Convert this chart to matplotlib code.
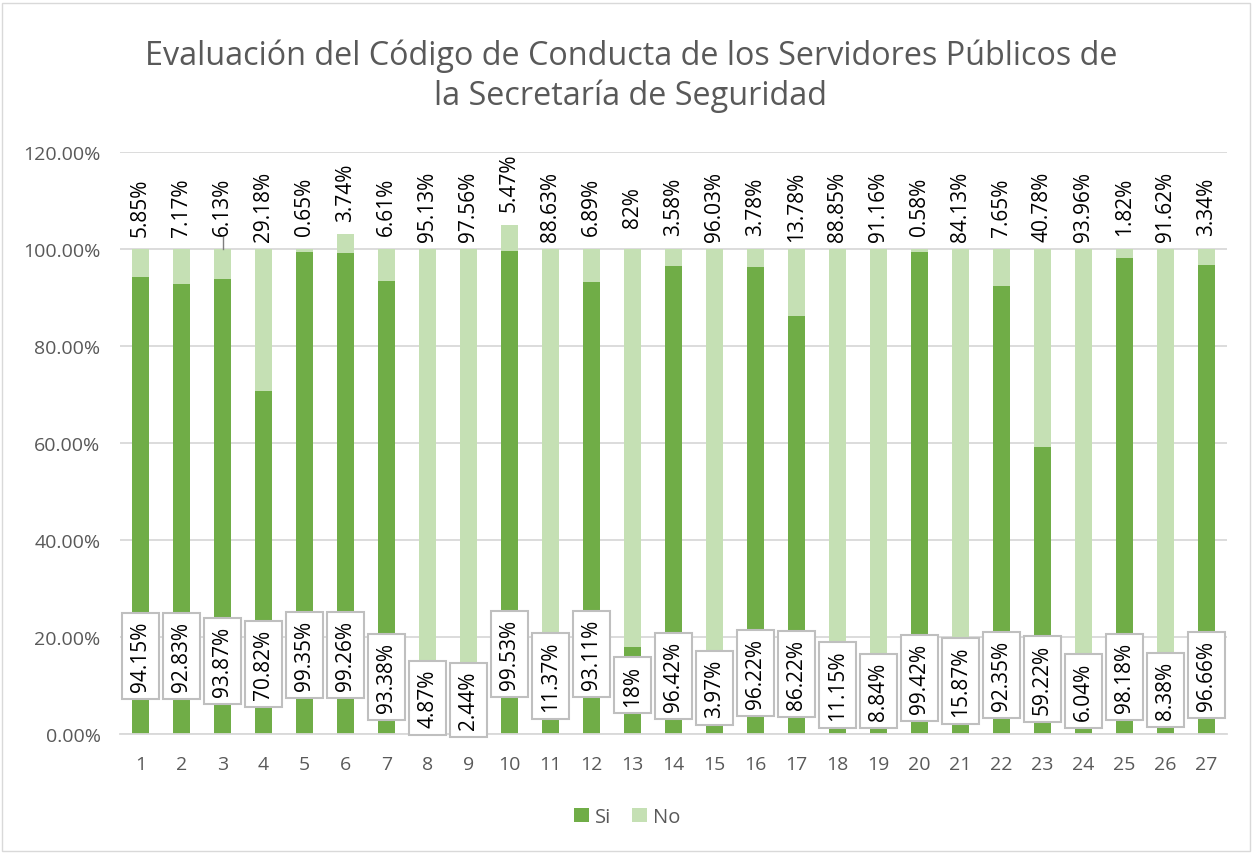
import matplotlib.pyplot as plt
import numpy as np
from matplotlib.patches import Rectangle

# Data
categorias = [str(i) for i in range(1, 28)]
si = [94.15, 92.83, 93.87, 70.82, 99.35, 99.26, 93.38, 4.87, 2.44, 99.53,
      11.37, 93.11, 18, 96.42, 3.97, 96.22, 86.22, 11.15, 8.84, 99.42,
      15.87, 92.35, 59.22, 6.04, 98.18, 8.38, 96.66]
no = [5.85, 7.17, 6.13, 29.18, 0.65, 3.74, 6.61, 95.13, 97.56, 5.47,
      88.63, 6.89, 82, 3.58, 96.03, 3.78, 13.78, 88.85, 91.16, 0.58,
      84.13, 7.65, 40.78, 93.96, 1.82, 91.62, 3.34]
# manual placement (centre height, %) of the "Si" label boxes
si_label_y = [16.1, 16.1, 15.1, 14.4, 16.3, 16.3, 11.8, 7.4, 7.0, 16.5,
              12.0, 16.5, 10.1, 12.0, 9.5, 12.6, 12.4, 10.1, 8.9, 11.5,
              10.9, 12.2, 11.3, 8.9, 11.8, 9.1, 12.2]


def fmt(v):
    s = f"{v:.2f}".rstrip('0').rstrip('.')
    return s + "%"


plt.rcParams['font.family'] = ['Open Sans', 'DejaVu Sans']

fig = plt.figure(figsize=(12.54, 8.54), dpi=100)
ax = fig.add_axes([120 / 1254, 1 - 735 / 854, 1107 / 1254, 582 / 854])

x = np.arange(1, len(categorias) + 1)
si_f = np.array(si) / 100
no_f = np.array(no) / 100
ax.bar(x, si_f, width=0.4, color='#70AD47', label='Si', zorder=2)
ax.bar(x, no_f, width=0.4, bottom=si_f, color='#C5E0B4', label='No', zorder=2)

# labels on top (No)
for xi, s, n in zip(x, si_f, no_f):
    top = s + n
    ax.text(xi, top + 0.088, fmt(n * 100), rotation=90, ha='center', va='center',
            fontsize=15, color='black', zorder=4)
# leader line on bar 3
ax.plot([3, 3], [1.0, 1.025], color='#7F7F7F', lw=1, zorder=3)

# boxed labels (Si)
for xi, s, ly in zip(x, si, si_label_y):
    ax.text(xi, ly / 100, fmt(s), rotation=90, ha='center', va='center',
            fontsize=15, color='black', zorder=5,
            bbox=dict(boxstyle='square,pad=0.38', facecolor='white',
                      edgecolor='#BFBFBF', linewidth=1.5))

ax.set_xlim(0.5, 27.5)
ax.set_ylim(0, 1.2)
yt = np.arange(0, 1.21, 0.2)
ax.set_yticks(yt)
ax.set_yticklabels([f"{v * 100:.2f}%" for v in yt])
ax.set_xticks(x)
ax.set_xticklabels(categorias)
ax.tick_params(axis='both', length=0, labelsize=14, colors='#595959')
ax.tick_params(axis='x', pad=15)
ax.tick_params(axis='y', pad=14)
ax.grid(axis='y', color='#D9D9D9', linewidth=1.3, zorder=0)
for sp in ['top', 'right', 'left']:
    ax.spines[sp].set_visible(False)
ax.spines['bottom'].set_color('#D9D9D9')
ax.spines['bottom'].set_linewidth(1.3)

fig.text(0.503, 1 - 76 / 854,
         'Evaluación del Código de Conducta de los Servidores Públicos de\nla Secretaría de Seguridad',
         ha='center', va='center', fontsize=23.3, color='#595959', linespacing=1.25)

leg = fig.legend(loc='center', bbox_to_anchor=(0.5, 1 - 818 / 854), ncol=2, frameon=False,
                 fontsize=14.5, handlelength=0.75, handleheight=0.75, columnspacing=1.0,
                 handletextpad=0.3)
for t in leg.get_texts():
    t.set_color('#595959')

fig.patches.append(Rectangle((2 / 1254, 2 / 854), 1248 / 1254, 848 / 854,
                             transform=fig.transFigure, fill=False,
                             edgecolor='#D9D9D9', linewidth=1))

fig.savefig('out.png', dpi=100)
